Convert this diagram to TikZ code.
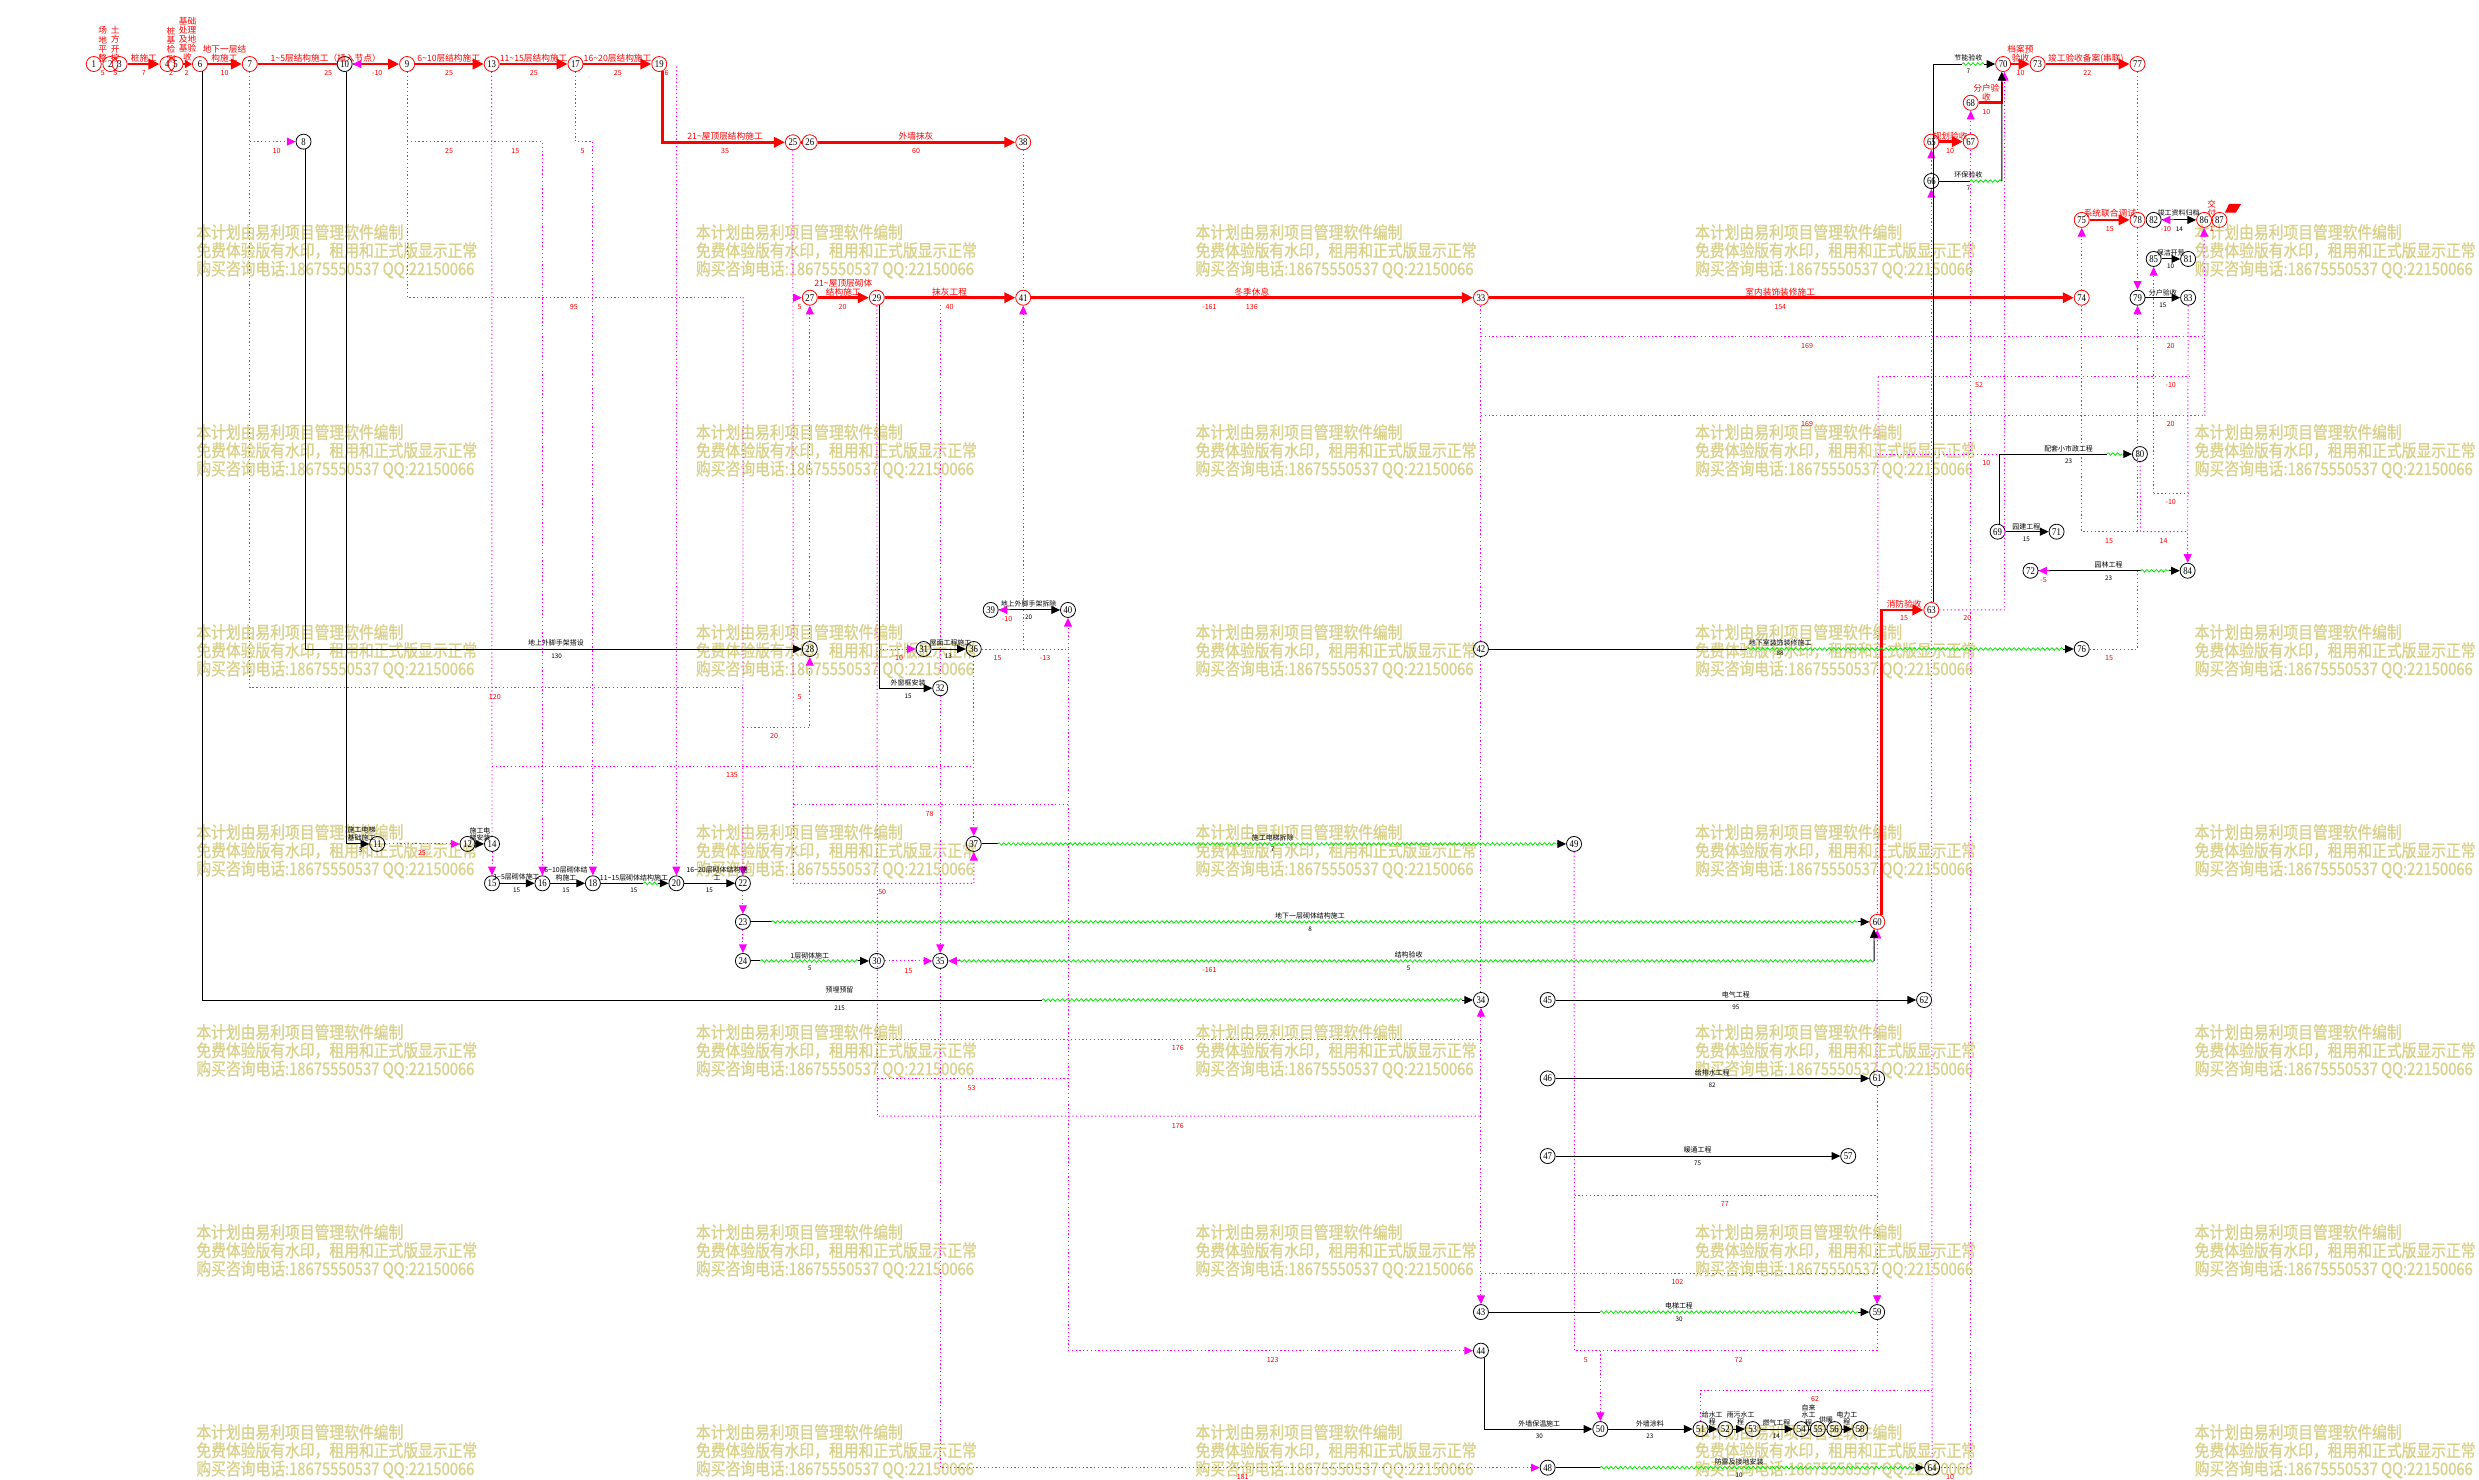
\documentclass[tikz,border=0pt]{standalone}
\usepackage{fontspec}
\setmainfont{Noto Sans CJK SC}
\newfontfamily\wmfont[FakeStretch=0.85,FakeBold=1.2]{Noto Sans CJK SC}
\newfontfamily\numfont[FakeStretch=0.85]{Liberation Serif}
\usetikzlibrary{arrows.meta,decorations.pathmorphing}
\definecolor{wmcol}{RGB}{218,210,140}
\definecolor{mg}{RGB}{255,0,255}
\definecolor{gn}{RGB}{0,235,0}
\definecolor{rr}{RGB}{255,0,0}
\newcommand\tild{\textasciitilde}
\newcounter{lbl}
\newcommand\RL[3]{\stepcounter{lbl}\node[rlab] (lab\arabic{lbl}) at (#1,#2) {#3};}
\newcommand\RD[3]{\stepcounter{lbl}\node[rdur] (lab\arabic{lbl}) at (#1,#2) {#3};}
\newcommand\BL[3]{\stepcounter{lbl}\node[blab] (lab\arabic{lbl}) at (#1,#2) {#3};}
\newcommand\BD[3]{\stepcounter{lbl}\node[bdur] (lab\arabic{lbl}) at (#1,#2) {#3};}
\begin{document}
\begin{tikzpicture}[x=1pt,y=-1pt,
  nd/.style={circle,draw=black,line width=0.5pt,minimum size=9.5pt,inner sep=0pt,font=\numfont\fontsize{6.5}{6.5}\selectfont},
  cn/.style={nd,draw=rr},
  mytip/.style={-{Triangle[length=5.5pt,width=5pt]}},
  crit/.style={rr,line width=1.7pt,-{Triangle[length=7pt,width=6.5pt]}},
  critl/.style={rr,line width=1.7pt},
  ln/.style={black,line width=0.6pt},
  act/.style={ln,mytip},
  dum/.style={mg,line width=0.6pt,dash pattern=on 0.8pt off 1.6pt},
  dumar/.style={dum,mytip},
  mgar/.style={mg,line width=0.6pt,mytip},
  wavy/.style={gn,line width=0.5pt,decorate,decoration={snake,segment length=3pt,amplitude=0.8pt}},
  rlab/.style={text=rr,font=\fontsize{5.5}{5.8}\selectfont,inner sep=0pt,align=center},
  rdur/.style={text=rr,font=\fontsize{4.5}{4.5}\selectfont,inner sep=0pt},
  blab/.style={text=black,font=\fontsize{4.4}{4.8}\selectfont,inner sep=0pt,align=center},
  bdur/.style={text=black,font=\fontsize{4}{4}\selectfont,inner sep=0pt},
  wm/.style={text=wmcol,font=\wmfont\fontsize{11}{11.5}\selectfont,anchor=north west,align=left,inner sep=0pt},
]
\useasboundingbox (0,0) rectangle (1568,936);
\fill[white] (0,0) rectangle (1568,936);

% watermark
\foreach \cx [count=\i] in {124,440,756,1072,1388}{
  \foreach \cy [count=\j] in {141.5,268,394.5,521,647.5,774,900.5}{
    \node[wm] (wm\i-\j) at (\cx,\cy) {本计划由易利项目管理软件编制\\免费体验版有水印，租用和正式版显示正常\\购买咨询电话:18675550537 QQ:22150066};
  }
}

% nodes
\node[cn] (n1) at (59.3,40.5) {1};
\node[cn] (n2) at (69.8,40.5) {2};
\node[cn] (n3) at (75.7,40.5) {3};
\node[cn] (n4) at (105.9,40.5) {4};
\node[cn] (n5) at (111,40.5) {5};
\node[cn] (n6) at (126.5,40.5) {6};
\node[cn] (n7) at (158,40.5) {7};
\node[nd] (n10) at (218,40.5) {10};
\node[cn] (n9) at (257.5,40.5) {9};
\node[cn] (n13) at (311,40.5) {13};
\node[cn] (n17) at (364,40.5) {17};
\node[cn] (n19) at (417,40.5) {19};
\node[nd] (n8) at (192,89.6) {8};
\node[cn] (n25) at (501.5,90) {25};
\node[cn] (n26) at (512.2,90) {26};
\node[cn] (n38) at (647.2,90) {38};
\node[cn] (n27) at (512.2,188.3) {27};
\node[cn] (n29) at (554.6,188.3) {29};
\node[cn] (n41) at (647.2,188.3) {41};
\node[cn] (n33) at (936.7,188.3) {33};
\node[cn] (n74) at (1316.7,188.3) {74};
\node[cn] (n70) at (1267,40.5) {70};
\node[cn] (n73) at (1288.8,40.5) {73};
\node[cn] (n77) at (1352,40.5) {77};
\node[cn] (n68) at (1246.5,65) {68};
\node[cn] (n65) at (1221.6,89.6) {65};
\node[cn] (n67) at (1246.5,89.6) {67};
\node[nd] (n66) at (1221.6,114.5) {66};
\node[cn] (n75) at (1316.7,139.1) {75};
\node[cn] (n78) at (1352,139.1) {78};
\node[nd] (n82) at (1362.2,139.1) {82};
\node[cn] (n86) at (1394.1,139.1) {86};
\node[cn] (n87) at (1403.8,139.1) {87};
\node[nd] (n85) at (1362.2,163.8) {85};
\node[nd] (n81) at (1384,163.8) {81};
\node[nd] (n79) at (1352,188.3) {79};
\node[nd] (n83) at (1384,188.3) {83};
\node[nd] (n80) at (1353.5,287.2) {80};
\node[nd] (n69) at (1263.5,336.3) {69};
\node[nd] (n71) at (1300.8,336.3) {71};
\node[nd] (n72) at (1284.3,361) {72};
\node[nd] (n84) at (1383.7,361) {84};
\node[cn] (n63) at (1221.6,385.8) {63};
\node[nd] (n76) at (1316.7,410.5) {76};
\node[nd] (n42) at (936.7,410.5) {42};
\node[nd] (n28) at (512.2,410.5) {28};
\node[nd] (n31) at (584.2,410.5) {31};
\node[nd] (n36) at (615.9,410.5) {36};
\node[nd] (n32) at (594.7,435.3) {32};
\node[nd] (n39) at (626.6,385.8) {39};
\node[nd] (n40) at (675.5,385.8) {40};
\node[nd] (n37) at (615.9,533.8) {37};
\node[nd] (n49) at (995.6,533.8) {49};
\node[nd] (n11) at (238.6,533.8) {11};
\node[nd] (n12) at (295.7,533.8) {12};
\node[nd] (n14) at (311.2,533.8) {14};
\node[nd] (n15) at (311.2,558.7) {15};
\node[nd] (n16) at (343.1,558.7) {16};
\node[nd] (n18) at (375,558.7) {18};
\node[nd] (n20) at (427.8,558.7) {20};
\node[nd] (n22) at (469.9,558.7) {22};
\node[nd] (n23) at (469.9,583.1) {23};
\node[cn] (n60) at (1187.4,583.1) {60};
\node[nd] (n24) at (469.9,607.8) {24};
\node[nd] (n30) at (554.6,607.8) {30};
\node[nd] (n35) at (594.7,607.8) {35};
\node[nd] (n34) at (936.7,632.5) {34};
\node[nd] (n45) at (978.9,632.5) {45};
\node[nd] (n62) at (1217,632.5) {62};
\node[nd] (n46) at (978.9,682.1) {46};
\node[nd] (n61) at (1187.3,682.1) {61};
\node[nd] (n47) at (978.9,731.2) {47};
\node[nd] (n57) at (1169,731.2) {57};
\node[nd] (n43) at (936.7,829.9) {43};
\node[nd] (n59) at (1187.3,829.9) {59};
\node[nd] (n44) at (936.7,854.3) {44};
\node[nd] (n50) at (1012.2,903.9) {50};
\node[nd] (n51) at (1075.6,903.9) {51};
\node[nd] (n52) at (1091.3,903.9) {52};
\node[nd] (n53) at (1108.6,903.9) {53};
\node[nd] (n54) at (1139.3,903.9) {54};
\node[nd] (n55) at (1149.8,903.9) {55};
\node[nd] (n56) at (1160.3,903.9) {56};
\node[nd] (n58) at (1176.6,903.9) {58};
\node[nd] (n48) at (978.9,928.3) {48};
\node[nd] (n64) at (1222.1,928.3) {64};

% dotted logical links
\draw[dum] (n7) -- (158,435) -- (470,435);
\draw[dumar] (158,89.6) -- (n8);
\draw[dum] (n9) -- (257.5,188) -- (470,188);
\draw[dumar] (257.5,89.6) -- (343.1,89.6) -- (n16);
\draw[dum] (n13) -- (n14);
\draw[dumar] (n14) -- (n15);
\draw[dum] (311.2,484.5) -- (614,484.5);
\draw[dumar] (n17) -- (364,89.6) -- (375,89.6) -- (n18);
\draw[dumar] (428,42) -- (n20);
\draw[dumar] (470,188) -- (n22);
\draw[dumar] (n22) -- (n23);
\draw[dumar] (n23) -- (n24);
\draw[dum] (n25) -- (501.8,558.7) -- (616,558.7);
\draw[dumar] (616,558.7) -- (n37);
\draw[dumar] (501.8,188.3) -- (n27);
\draw[dumar] (470,460) -- (512.2,460) -- (n28);
\draw[dumar] (n28) -- (n27);
\draw[dum] (n29) -- (555,706) -- (936.7,706);
\draw[dum] (555,657.4) -- (936.7,657.4);
\draw[dum] (555,682) -- (675.5,682);
\draw[dumar] (936.7,706) -- (n34);
\draw[dumar] (936.7,657.4) -- (n43);
\draw[dumar] (n36) -- (675.5,410.5) -- (n40);
\draw[dum] (675.5,410.5) -- (675.5,854.3);
\draw[dumar] (675.5,854.3) -- (n44);
\draw[dum] (594.7,193) -- (n32);
\draw[dumar] (n32) -- (n35);
\draw[dumar] (n35) |- (n48);
\draw[dumar] (n30) -- (n35);
\draw[dumar] (n36) -- (n37);
\draw[dum] (501.8,509.1) -- (675.5,509.1);
\draw[dum] (n38) -- (n41);
\draw[dumar] (647.2,410.5) -- (n41);
\draw[dum] (n33) -- (n42);
\draw[dum] (n42) -- (n34);
\draw[dum] (936.7,213) -- (1394.6,213);
\draw[dum] (936.7,263) -- (1394.6,263);
\draw[dum] (1187.9,238.3) -- (1385.8,238.3);
\draw[dum] (1187.9,238.3) -- (n60);
\draw[dum] (1187.9,287.2) -- (1264.7,287.2);
\draw[dumar] (n61) -- (n60);
\draw[dumar] (n61) -- (n59);
\draw[dum] (n59) -- (1187.3,854.3) -- (995.9,854.3);
\draw[dum] (n49) -- (995.9,854.3);
\draw[dum] (995.9,756) -- (1187.3,756);
\draw[dum] (936.7,805.4) -- (1187.3,805.4);
\draw[dumar] (1012.2,854.3) -- (n50);
\draw[dum] (n51) -- (1075.6,879.2) -- (1222.1,879.2);
\draw[dumar] (n63) -- (n66);
\draw[dumar] (n66) -- (n65);
\draw[dum] (n63) -- (n64);
\draw[dumar] (n67) -- (n68);
\draw[dum] (n67) |- (n64);
\draw[dumar] (n63) -- (1268,385.8) -- (n70.-80);
\draw[dumar] (n74) -- (n75);
\draw[dum] (n74) -- (1316.7,336.3) -- (1352,336.3);
\draw[dum] (n77) -- (n78);
\draw[dumar] (n78) -- (n79);
\draw[dumar] (1352,336.3) -- (n79);
\draw[dum] (n76) -- (1352,410.5) -- (1352,361);
\draw[dum] (1362.2,312) -- (1385.8,312);
\draw[dumar] (1362.2,312) -- (n85);
\draw[dumar] (n83) -- (n84);
\draw[dum] (n80) -- (1354,336.3) -- (1384,336.3);
\draw[dumar] (1394.6,263) -- (n86);

% critical path
\draw[crit] (n3) -- (n4);
\draw[crit,-{Triangle[length=4.5pt,width=5pt]}] (n5) -- (n6);
\draw[crit] (n6) -- (n7);
\draw[critl] (n7) -- (n10);
\draw[crit] (n10) -- (n9);
\draw[mgar] (229,40.5) -- (n10);
\draw[crit] (n9) -- (n13);
\draw[crit] (n13) -- (n17);
\draw[crit] (n17) -- (n19);
\draw[crit] (n19.-65) |- (n25);
\draw[critl] (n25) -- (n26);
\draw[crit] (n26) -- (n38);
\draw[crit] (n27) -- (n29);
\draw[crit] (n29) -- (n41);
\draw[crit] (n41) -- (n33);
\draw[crit] (n33) -- (n74);
\draw[crit] (n75) -- (n78);
\draw[crit] (n65) -- (n67);
\draw[crit] (n70) -- (n73);
\draw[crit] (n73) -- (n77);
\draw[critl] (n86) -- (n87);
\draw[critl] (n68) -- (1266.2,65) -- (1266.2,52);
\draw[crit] (n60.60) |- (n63);
\fill[rr] (1409.9,129) -- (1417.5,129) -- (1414.2,134.5) -- (1407.3,134.5) -- cycle;

% ordinary activities
\draw[ln] (n6.-70) |- (659,632.5);
\draw[wavy] (659,632.5) -- (925,632.5);
\draw[act] (925,632.5) -- (n34);
\draw[act] (n8.-75) |- (n28);
\draw[act] (n10.-75) |- (n11);
\draw[dumar] (n11) -- (n12);
\draw[act] (n12) -- (n14);
\draw[act] (n15) -- (n16);
\draw[act] (n16) -- (n18);
\draw[ln] (n18) -- (407,558.7);
\draw[wavy] (407,558.7) -- (416.5,558.7);
\draw[act] (416.5,558.7) -- (n20);
\draw[act] (n20) -- (n22);
\draw[ln] (n23) -- (488,583.1);
\draw[wavy] (488,583.1) -- (1175,583.1);
\draw[act] (1175,583.1) -- (n60);
\draw[ln] (n24) -- (481,607.8);
\draw[wavy] (481,607.8) -- (543,607.8);
\draw[act] (543,607.8) -- (n30);
\draw[wavy] (606,607.8) -- (1185.4,607.8);
\draw[act] (1185.4,607.8) -- (n60.-115);
\draw[mgar] (607,607.8) -- (n35);
\draw[act] (n29.-70) |- (n32);
\draw[dumar] (556.2,410.5) -- (n31);
\draw[act] (n31) -- (n36);
\draw[act] (n39) -- (n40);
\draw[mgar] (639,385.8) -- (n39);
\draw[ln] (n37) -- (631,533.8);
\draw[wavy] (631,533.8) -- (984.5,533.8);
\draw[act] (984.5,533.8) -- (n49);
\draw[ln] (n42) -- (1105,410.5);
\draw[wavy] (1105,410.5) -- (1305,410.5);
\draw[act] (1305,410.5) -- (n76);
\draw[act] (n45) -- (n62);
\draw[act] (n46) -- (n61);
\draw[act] (n47) -- (n57);
\draw[ln] (n43) -- (1012,829.9);
\draw[wavy] (1012,829.9) -- (1175.5,829.9);
\draw[act] (1175.5,829.9) -- (n59);
\draw[act] (n44.-65) |- (n50);
\draw[act] (n50) -- (n51);
\draw[act] (n51) -- (n52);
\draw[act] (n52) -- (n53);
\draw[act] (n53) -- (n54);
\draw[ln] (n54) -- (n55);
\draw[ln] (n55) -- (n56);
\draw[act] (n56) -- (n58);
\draw[ln] (n48) -- (1012,928.3);
\draw[wavy] (1012,928.3) -- (1211,928.3);
\draw[act] (1211,928.3) -- (n64);
\draw[ln] (n63.75) |- (1241,40.5);
\draw[wavy] (1241,40.5) -- (1255,40.5);
\draw[act] (1255,40.5) -- (n70);
\draw[ln] (n66) -- (1246,114.5);
\draw[wavy] (1246,114.5) -- (1266.2,114.5);
\draw[act] (1266.2,114.5) -- (n70.-100);
\draw[act] (n69) -- (n71);
\draw[ln] (n69.75) |- (1332.5,287.2);
\draw[wavy] (1332.5,287.2) -- (1342.5,287.2);
\draw[act] (1342.5,287.2) -- (n80);
\draw[ln] (n72) -- (1354,361);
\draw[wavy] (1354,361) -- (1372,361);
\draw[act] (1372,361) -- (n84);
\draw[mgar] (1296,361) -- (n72);
\draw[act] (n82) -- (n86);
\draw[mgar] (1375,139.1) -- (n82);
\draw[act] (n85) -- (n81);
\draw[act] (n79) -- (n83);

% red labels
\RL{65}{28}{场\\地\\平\\整}
\RL{72.9}{28}{土\\方\\开\\挖}
\RL{91}{36.9}{桩施工}
\RL{108.2}{28.5}{桩\\基\\检\\测}
\RL{118.6}{24.8}{基础\\处理\\及地\\基验\\收}
\RL{142}{34}{地下一层结\\构施工}
\RL{206}{36.9}{1\tild 5层结构施工（插入节点）}
\RL{283.8}{36.9}{6\tild 10层结构施工}
\RL{337.5}{36.9}{11\tild 15层结构施工}
\RL{390.6}{36.9}{16\tild 20层结构施工}
\RL{458.6}{86}{21\tild 屋顶层结构施工}
\RL{579.4}{86}{外墙抹灰}
\RL{533.4}{182}{21\tild 屋顶层砌体\\结构施工}
\RL{600.6}{184.9}{抹灰工程}
\RL{791.8}{184.9}{冬季休息}
\RL{1126}{184.9}{室内装饰装修施工}
\RL{1334.5}{134.9}{系统联合调试}
\RL{1233.5}{86}{规划验收}
\RL{1256.4}{58.7}{分户验\\收}
\RL{1278}{34}{档案预\\验收}
\RL{1319.3}{36.9}{竣工验收备案(串联)}
\RL{1204.4}{382}{消防验收}
\RL{1399}{132}{交\\付}
% red durations
\RD{65}{46}{5}
\RD{72.9}{46}{5}
\RD{91}{46}{7}
\RD{108.2}{46}{2}
\RD{118}{46}{2}
\RD{142}{46}{10}
\RD{207.6}{46}{25}
\RD{238.6}{46}{-10}
\RD{284}{46}{25}
\RD{337.6}{46}{25}
\RD{390.8}{46}{25}
\RD{421.6}{46}{6}
\RD{458.6}{95.5}{35}
\RD{579.4}{95.5}{60}
\RD{533}{194}{20}
\RD{600.6}{194}{40}
\RD{765}{194}{-161}
\RD{791.8}{194}{136}
\RD{1126}{194}{154}
\RD{1334.5}{145}{15}
\RD{1233.5}{95.5}{10}
\RD{1256.4}{71}{10}
\RD{1278}{46}{10}
\RD{1320.3}{46}{22}
\RD{1204.4}{391.1}{15}
\RD{1399}{145}{1}
\RD{313}{441}{120}
\RD{175}{95.5}{10}
\RD{363}{194}{95}
\RD{284}{95.5}{25}
\RD{326}{95.5}{15}
\RD{368.5}{95.5}{5}
\RD{463}{490}{135}
\RD{266.9}{539.7}{25}
\RD{558}{564}{50}
\RD{505.7}{194}{5}
\RD{489.6}{465.5}{20}
\RD{505.7}{440.6}{5}
\RD{745}{712}{176}
\RD{745}{663}{176}
\RD{614.5}{688}{53}
\RD{805}{860}{123}
\RD{786}{934}{181}
\RD{574.5}{614}{15}
\RD{631}{416}{15}
\RD{661}{416}{-13}
\RD{588}{515}{78}
\RD{568.7}{416}{10}
\RD{637}{391.7}{-10}
\RD{765}{613.5}{-161}
\RD{1143}{218.8}{169}
\RD{1143}{268.2}{169}
\RD{1373}{218.8}{20}
\RD{1373}{243.5}{-10}
\RD{1373}{268.2}{20}
\RD{1251.8}{243.5}{52}
\RD{1256.4}{293}{10}
\RD{1334}{342}{15}
\RD{1368.5}{342}{14}
\RD{1373}{317.7}{-10}
\RD{1334}{416}{15}
\RD{1292.6}{366.8}{-5}
\RD{1244.4}{391.1}{20}
\RD{1003}{860}{5}
\RD{1099.7}{860}{72}
\RD{1091}{761.5}{77}
\RD{1061}{811}{102}
\RD{1148}{885}{62}
\RD{1233.5}{934}{10}
\RD{1370}{144.8}{-10}
% black labels
\BL{351.6}{406.9}{地上外脚手架搭设} \BD{352}{415.3}{130}
\BL{531}{625.9}{预埋预留} \BD{531}{637.7}{215}
\BL{228.7}{527.5}{施工电梯\\基础施工} \BD{228}{538}{3}
\BL{303.6}{527.8}{施工电\\梯安装}
\BL{326.7}{554.5}{1\tild 5层砌体施工} \BD{326.7}{563.3}{15}
\BL{358}{552.6}{6\tild 10层砌体结\\构施工} \BD{358}{563.3}{15}
\BL{401}{555.1}{11\tild 15层砌体结构施工} \BD{401}{563.3}{15}
\BL{453.5}{552.6}{16\tild 20层砌体结构施\\工} \BD{448.7}{563.3}{15}
\BL{828.6}{579.3}{地下一层砌体结构施工} \BD{828.6}{587.8}{8}
\BL{512.2}{604.6}{1层砌体施工} \BD{512.2}{612.6}{5}
\BL{891}{604}{结构验收} \BD{891}{612.5}{5}
\BL{574.4}{431.6}{外窗框安装} \BD{574.4}{440.2}{15}
\BL{601.2}{406.9}{屋面工程施工} \BD{599.8}{414.9}{13}
\BL{650.6}{382.2}{地上外脚手架拆除} \BD{650.6}{390.7}{20}
\BL{805}{530.2}{施工电梯拆除} \BD{805}{537.2}{7}
\BL{1126}{406.9}{地下室装饰装修施工} \BD{1126}{413.2}{88}
\BL{1097.9}{629}{电气工程} \BD{1097.9}{637.2}{95}
\BL{1083}{678.3}{给排水工程} \BD{1083}{686.6}{82}
\BL{1073.8}{727.6}{暖通工程} \BD{1073.8}{735.8}{75}
\BL{1062}{826.1}{电梯工程} \BD{1062}{834.5}{30}
\BL{973.6}{900.3}{外墙保温施工} \BD{973.6}{908.7}{30}
\BL{1043.6}{900.3}{外墙涂料} \BD{1043.6}{908.7}{23}
\BL{1100}{924.9}{防雷及接地安装} \BD{1100}{932.9}{10}
\BL{1245}{36.9}{节能验收} \BD{1245}{44.9}{7}
\BL{1245}{110.7}{环保验收} \BD{1245}{119.1}{7}
\BL{1281.7}{333.1}{园建工程} \BD{1281.7}{341.1}{15}
\BL{1308.4}{283.6}{配套小市政工程} \BD{1308.4}{292}{23}
\BL{1333.7}{357.4}{园林工程} \BD{1333.7}{365.8}{23}
\BL{1378}{134.9}{竣工资料归档} \BD{1378.5}{144.8}{14}
\BL{1373}{160.2}{保洁开荒} \BD{1373}{168.6}{10}
\BL{1368}{185.1}{分户验收} \BD{1368}{192.9}{15}
\BL{1083}{897}{给水工\\程}
\BL{1101}{897}{雨污水工\\程}
\BL{1123.6}{899.8}{燃气工程} \BD{1123.6}{908.7}{14}
\BL{1144}{895}{自来\\水工\\程}
\BL{1155}{898}{供暖}
\BL{1168.2}{897}{电力工\\程}
\end{tikzpicture}
\end{document}
